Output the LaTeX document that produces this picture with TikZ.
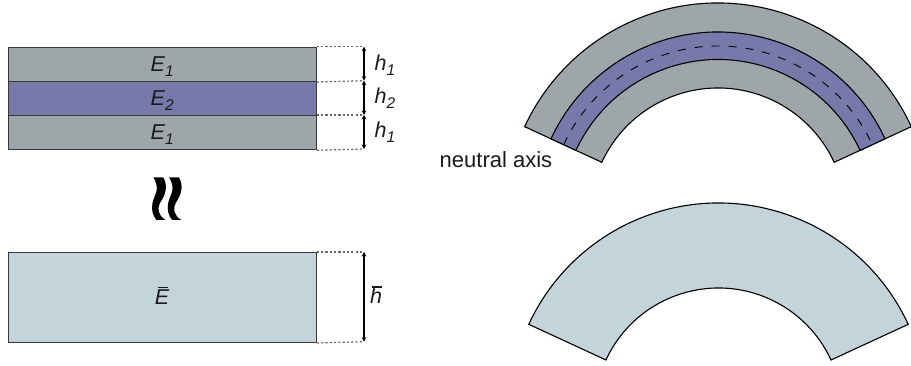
\documentclass[tikz,border=0pt]{standalone}
\usepackage{fontspec}
\setmainfont{Liberation Sans}
\usetikzlibrary{arrows.meta}
\definecolor{layergray}{HTML}{9EA6A9}
\definecolor{layerblue}{HTML}{7679A9}
\definecolor{layerpale}{HTML}{C4D4DB}
\definecolor{inkdark}{HTML}{1A1A1A}
\newcommand{\sectorpath}[4]{%
  \path[#1] ([shift={(24.8:#3)}]#2) arc[start angle=24.8,end angle=155.2,radius=#3]
    -- ([shift={(155.2:#4)}]#2) arc[start angle=155.2,end angle=24.8,radius=#4] -- cycle;}
\newcommand{\barred}[2]{\leavevmode\rlap{\hspace{#2}\rule[16.2pt]{10pt}{1.4pt}}\textit{#1}}
\newcommand{\subh}[2]{\textit{#1}\raisebox{-5pt}{\fontsize{15.5}{15.5}\selectfont\textit{#2}}}
\begin{document}
\begin{tikzpicture}[x=1pt,y=1pt,
  every node/.style={text=inkdark,font=\fontsize{21.5}{21.5}\selectfont},
  layer/.style={draw=black!78,line width=1.3pt,inner sep=0pt,minimum width=308pt,
    text height=14.3pt,text depth=0pt,anchor=north west},
  dimguide/.style={dash pattern=on 2.2pt off 2.1pt,line width=1.2pt,draw=black!60},
  dimarrow/.style={line width=1.5pt,{Stealth[length=4.5pt,width=4.5pt]}-{Stealth[length=4.5pt,width=4.5pt]}},
  dimlabel/.style={anchor=base west,inner sep=0pt},
  bent/.style={draw=black,line width=1.1pt},
  squiggle/.style={fill=black}]
\useasboundingbox (0,0) rectangle (911,366);
% flat stack
\node[layer,fill=layergray,minimum height=34pt] (top) at (7.5,319.3) {\subh{E}{1}};
\node[layer,fill=layergray,minimum height=34pt] (bot) at (7.5,251) {\subh{E}{1}};
\node[layer,fill=layerblue,minimum height=34.3pt] (mid) at (7.5,285.3) {\subh{E}{2}};
\node[layer,fill=layerpale,minimum height=89.7pt] (eq) at (7.5,114) {\barred{E}{3pt}};
% dimension guides
\coordinate (d0) at (364,319.3);
\coordinate (d1) at (364,285.3);
\coordinate (d2) at (364,251);
\coordinate (d3) at (364,217);
\coordinate (e0) at (364,114);
\coordinate (e1) at (364,24.3);
\draw[dimguide] (top.north east) -- (d0);
\draw[dimguide] (top.south east) -- (d1);
\draw[dimguide] (bot.north east) -- (d2);
\draw[dimguide] (bot.south east) -- (d3);
\draw[dimguide] (eq.north east) -- (e0);
\draw[dimguide] (eq.south east) -- (e1);
\draw[dimarrow] (d0) -- (d1);
\draw[dimarrow] (d1) -- (d2);
\draw[dimarrow] (d2) -- (d3);
\draw[dimarrow] (e0) -- (e1);
\node[dimlabel] (l1) at (374.5,295.3) {\subh{h}{1}};
\node[dimlabel] (l2) at (374.5,262) {\subh{h}{2}};
\node[dimlabel] (l3) at (374.5,228) {\subh{h}{1}};
\node[dimlabel] (l4) at (370,62) {\barred{h}{2pt}};
% squiggles
\foreach \dx in {0,15.7}{
  \path[squiggle,shift={(\dx,0)}]
    (153.3,188.7) -- (163.3,188.7)
    .. controls (168,180) and (166,172) .. (160,163)
    .. controls (157,158) and (158,150) .. (165.7,146)
    -- (156.5,146)
    .. controls (153,150) and (151,156) .. (152.5,163)
    .. controls (154,171) and (161,176) .. (153.3,188.7) -- cycle;
}
% bent laminate
\coordinate (cu) at (718,150);
\coordinate (cl) at (718.5,-46);
\sectorpath{fill=layergray,bent}{cu}{213}{128}
\sectorpath{fill=layerblue,bent}{cu}{184}{156.5}
\draw[line width=0.9pt,dash pattern=on 8pt off 9pt] ([shift={(155.2:170)}]cu) arc[start angle=155.2,end angle=24.8,radius=170];
\node[anchor=base west,inner sep=0pt,font=\fontsize{22}{22}\selectfont] (na) at (439.5,198) {neutral axis};
\sectorpath{fill=layerpale,bent}{cl}{209}{124}
\end{tikzpicture}
\end{document}
